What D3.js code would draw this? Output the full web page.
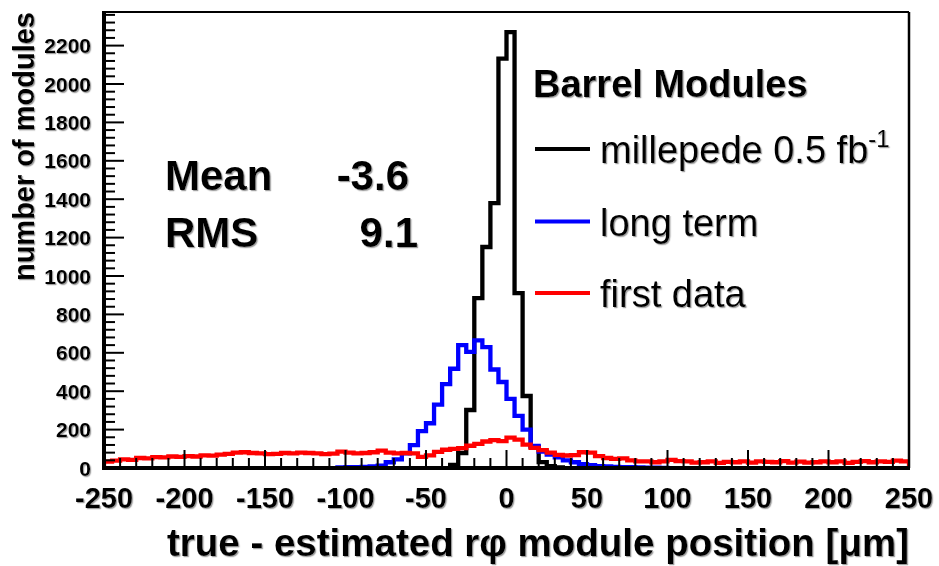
<!DOCTYPE html>
<html>
<head>
<meta charset="utf-8">
<script src="https://cdn.jsdelivr.net/npm/d3@7/dist/d3.min.js"></script>
<style>
  html, body { margin: 0; padding: 0; background: #fff; }
  svg { display: block; }
  text { font-family: "Liberation Sans", Arial, Helvetica, sans-serif; }
</style>
</head>
<body>
<svg id="chart" width="939" height="566"></svg>
<script>
// ---------------- data ----------------
const binStart = -250;           // lower edge of first bin (µm)
const binWidth = 5;              // bin width (µm)
const nBins = 100;

// millepede 0.5 fb^-1 (black) – bins from -35 µm upward
const millepedeStart = -35;
const millepede = [16, 78, 302, 885, 1151, 1380, 2132, 2270, 911, 375, 109, 31, 10, 3];

// long term (blue) – bins from -105 µm upward
const longTermStart = -105;
const longTerm = [3, 4, 5, 6, 8, 12, 30, 45, 76, 119, 192, 233, 330, 437, 517, 640, 605, 665, 630, 513,
                  448, 360, 272, 200, 115, 85, 70, 55, 40, 30, 20, 15, 10, 8, 6, 5, 4, 3, 2, 2, 1];

// first data (red) – all 100 bins from -250 µm
const firstDataStart = -250;
const firstData = [33, 38, 45, 42, 52, 50, 57, 55, 60, 58,
                   62, 60, 66, 64, 70, 74, 80, 82, 78, 76,
                   72, 74, 78, 76, 80, 78, 76, 72, 75, 85,
                   80, 76, 78, 82, 90, 80, 76, 78, 76, 58,
                   66, 84, 95, 100, 104, 116, 126, 138, 145, 140,
                   158, 148, 122, 105, 93, 80, 68, 65, 67, 82,
                   80, 62, 52, 48, 50, 40, 34, 34, 30, 34,
                   42, 36, 35, 28, 30, 35, 27, 32, 30, 34,
                   28, 35, 32, 30, 36, 28, 33, 28, 30, 35,
                   30, 34, 27, 32, 36, 30, 34, 32, 38, 34];

const xTickValues = [-250, -200, -150, -100, -50, 0, 50, 100, 150, 200, 250];
const yTickValues = [0, 200, 400, 600, 800, 1000, 1200, 1400, 1600, 1800, 2000, 2200];
const xDomain = [-250, 250];
const yDomain = [0, 2375];

const legendTitle = "Barrel Modules";
const seriesNames = ["millepede 0.5 fb", "long term", "first data"];
const statLabels = ["Mean", "RMS"];
const statValues = ["-3.6", "9.1"];
const xTitle = "true - estimated r\u03C6 module position [\u03BCm]";
const yTitle = "number of modules";

// ---------------- layout ----------------
const svg = d3.select("#chart");
const L = 104, R = 909, T = 12, B = 468;
const x = d3.scaleLinear().domain(xDomain).range([L, R]);
const y = d3.scaleLinear().domain(yDomain).range([B, T]);

const defs = svg.append("defs");
const f = defs.append("filter").attr("id", "sh").attr("x", "-5%").attr("y", "-5%").attr("width", "110%").attr("height", "120%");
f.append("feDropShadow").attr("dx", 1.2).attr("dy", 1.2).attr("stdDeviation", 0.7)
  .attr("flood-color", "#888").attr("flood-opacity", 0.8);
defs.append("clipPath").attr("id", "clip").append("rect")
  .attr("x", L).attr("y", T).attr("width", R - L).attr("height", B - T);

// histogram step path
function stepPath(start, vals) {
  const p = d3.path();
  const e0 = start;
  p.moveTo(x(e0), y(0));
  vals.forEach((v, i) => {
    const a = e0 + i * binWidth, b = a + binWidth;
    p.lineTo(x(a), y(v));
    p.lineTo(x(b), y(v));
  });
  p.lineTo(x(e0 + vals.length * binWidth), y(0));
  return p.toString();
}

const series = [
  { start: millepedeStart, vals: millepede, color: "#000000" },
  { start: longTermStart, vals: longTerm, color: "#0000ff" },
  { start: firstDataStart, vals: firstData, color: "#ff0000" }
];

const gH = svg.append("g").attr("clip-path", "url(#clip)");
series.forEach(s => {
  gH.append("path").attr("d", stepPath(s.start, s.vals))
    .attr("fill", "none").attr("stroke", s.color).attr("stroke-width", 4.3)
    .attr("stroke-linejoin", "miter");
});

// frame top/right
svg.append("line").attr("x1", L).attr("x2", R).attr("y1", T).attr("y2", T)
  .attr("stroke", "#000").attr("stroke-width", 2);
svg.append("line").attr("x1", R).attr("x2", R).attr("y1", T).attr("y2", B)
  .attr("stroke", "#000").attr("stroke-width", 2.5);

// x ticks
const xMinor = d3.range(xDomain[0], xDomain[1] + 1, 10);
svg.append("g").selectAll("line").data(xMinor).join("line")
  .attr("x1", d => x(d)).attr("x2", d => x(d))
  .attr("y1", B).attr("y2", d => B - (d % 50 === 0 ? 18 : 10))
  .attr("stroke", "#000").attr("stroke-width", 2);
// y ticks
const yMinor = d3.range(0, yDomain[1], 40);
svg.append("g").selectAll("line").data(yMinor).join("line")
  .attr("y1", d => y(d)).attr("y2", d => y(d))
  .attr("x1", L).attr("x2", d => L + (d % 200 === 0 ? 20 : 11))
  .attr("stroke", "#000").attr("stroke-width", 2);

// axis lines
svg.append("line").attr("x1", L).attr("x2", R + 1).attr("y1", B).attr("y2", B)
  .attr("stroke", "#000").attr("stroke-width", 4);
svg.append("line").attr("x1", L).attr("x2", L).attr("y1", T - 1).attr("y2", B + 2)
  .attr("stroke", "#000").attr("stroke-width", 4);

// tick labels
const gT = svg.append("g").attr("filter", "url(#sh)");
gT.selectAll("text.xl").data(xTickValues).join("text").attr("class", "xl")
  .attr("x", d => x(d)).attr("y", 508).attr("text-anchor", "middle")
  .attr("font-weight", "bold").attr("font-size", 29).text(d => d);
gT.selectAll("text.yl").data(yTickValues).join("text").attr("class", "yl")
  .attr("x", 91).attr("y", d => y(d) + 7.5).attr("text-anchor", "end")
  .attr("font-weight", "bold").attr("font-size", 21).text(d => d);

// axis titles
gT.append("text").attr("x", 909).attr("y", 556).attr("text-anchor", "end")
  .attr("font-weight", "bold").attr("font-size", 38.5).text(xTitle);
gT.append("text").attr("transform", "translate(34,12) rotate(-90)").attr("text-anchor", "end")
  .attr("font-weight", "bold").attr("font-size", 29).text(yTitle);

// stats
statLabels.forEach((s, i) => {
  gT.append("text").attr("x", 165).attr("y", 190 + i * 57).attr("font-weight", "bold")
    .attr("font-size", 42).text(s);
});
gT.append("text").attr("x", 409).attr("y", 190).attr("text-anchor", "end").attr("font-weight", "bold")
  .attr("font-size", 42).text(statValues[0]);
gT.append("text").attr("x", 418).attr("y", 247).attr("text-anchor", "end").attr("font-weight", "bold")
  .attr("font-size", 42).text(statValues[1]);

// legend
gT.append("text").attr("x", 533).attr("y", 97).attr("font-weight", "bold")
  .attr("font-size", 38).text(legendTitle);
const legY = [149, 221.5, 293];
series.forEach((s, i) => {
  svg.append("line").attr("x1", 535).attr("x2", 590).attr("y1", legY[i]).attr("y2", legY[i])
    .attr("stroke", s.color).attr("stroke-width", 4);
  const t = gT.append("text").attr("x", 600).attr("y", legY[i] + 14).attr("font-size", 38)
    .text(seriesNames[i]);
  if (i === 0) {
    t.append("tspan").attr("dy", -16).attr("font-size", 24).text("-1");
  }
});
</script>
</body>
</html>
